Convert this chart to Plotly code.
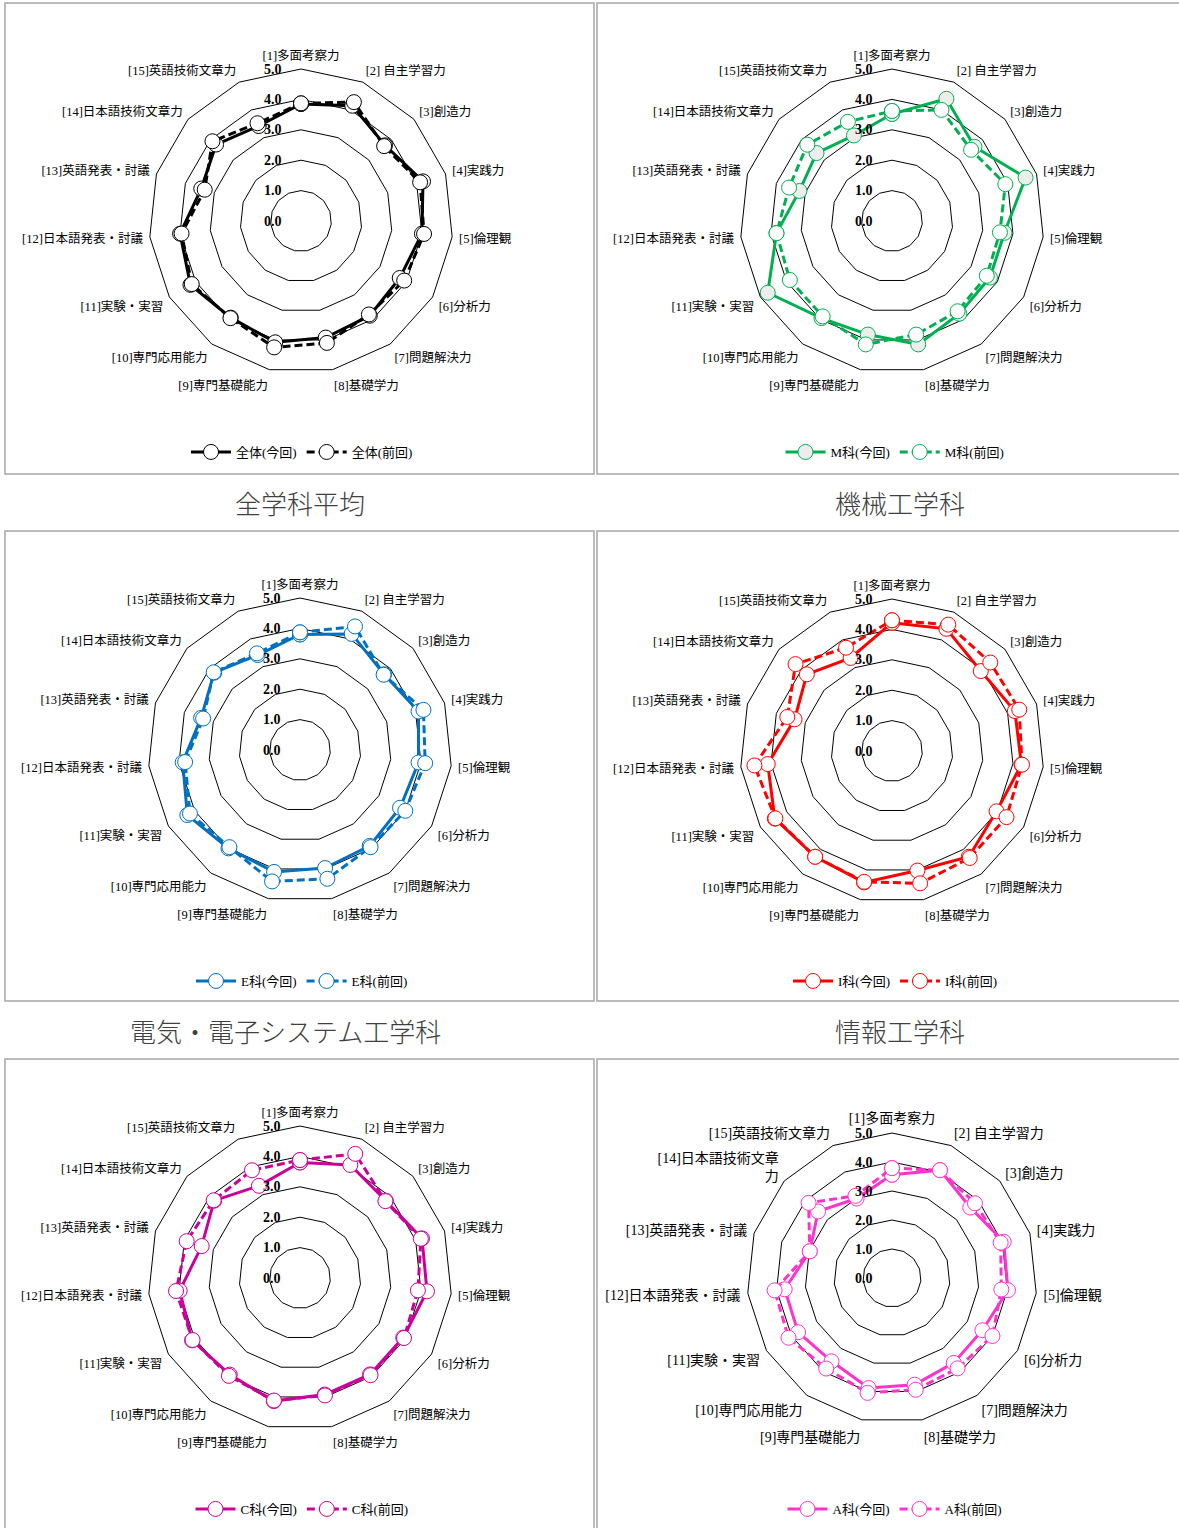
import plotly.graph_objects as go

W, H = 1179, 1528

categories = ["[1]多面考察力", "[2] 自主学習力", "[3]創造力", "[4]実践力", "[5]倫理観",
              "[6]分析力", "[7]問題解決力", "[8]基礎学力", "[9]専門基礎能力", "[10]専門応用能力",
              "[11]実験・実習", "[12]日本語発表・討議", "[13]英語発表・討議", "[14]日本語技術文章力",
              "[15]英語技術文章力"]

radial_ticks = [0, 1, 2, 3, 4, 5]

all_now  = [3.85, 4.15, 3.72, 4.22, 4.00, 3.75, 3.85, 3.92, 4.08, 3.93, 4.20, 4.00, 3.45, 3.76, 3.42]
all_prev = [3.87, 4.28, 3.68, 4.12, 4.07, 3.92, 3.80, 4.10, 4.25, 3.95, 4.15, 3.95, 3.33, 3.92, 3.52]

m_now  = [3.52, 4.40, 3.65, 4.62, 3.72, 3.72, 3.77, 4.15, 3.82, 3.95, 4.72, 3.82, 3.20, 3.34, 3.08]
m_prev = [3.62, 4.00, 3.50, 3.92, 3.57, 3.60, 3.67, 3.82, 4.15, 3.88, 3.88, 3.82, 3.56, 3.75, 3.57]

e_now  = [3.80, 4.18, 3.72, 4.10, 3.92, 3.80, 3.90, 3.97, 4.10, 4.00, 4.28, 3.88, 3.42, 3.80, 3.42]
e_prev = [3.87, 4.45, 3.70, 4.27, 4.14, 4.00, 3.95, 4.33, 4.42, 3.95, 4.18, 3.80, 3.35, 3.82, 3.48]

i_now  = [4.22, 4.40, 3.93, 4.25, 4.28, 3.97, 4.30, 4.02, 4.42, 4.30, 4.45, 4.11, 3.37, 3.77, 3.35]
i_prev = [4.30, 4.55, 4.35, 4.40, 4.30, 4.35, 4.35, 4.45, 4.40, 4.30, 4.43, 4.55, 3.62, 4.27, 3.72]

c_now  = [3.80, 4.07, 3.80, 4.22, 4.20, 3.92, 3.92, 3.92, 4.14, 3.93, 4.10, 3.98, 3.40, 3.80, 3.32]
c_prev = [3.88, 4.47, 3.78, 4.18, 3.90, 3.95, 3.95, 3.95, 4.12, 3.98, 4.08, 4.10, 3.92, 3.82, 3.88]

a_now  = [3.56, 4.07, 3.63, 4.05, 4.02, 3.60, 3.62, 3.76, 3.88, 3.55, 3.74, 3.72, 2.98, 3.43, 3.00]
a_prev = [3.79, 4.07, 3.85, 3.94, 3.79, 4.00, 3.85, 3.94, 4.05, 3.86, 4.12, 4.07, 2.98, 3.87, 3.10]

charts = [
    # name_now, name_prev, now, prev, color, now-marker fill, center(px), radius(px), legend center(px), label font size
    ("全体(今回)", "全体(前回)", all_now, all_prev, "#000000", "white", (301, 221), 152, (302, 452), 12.5),
    ("M科(今回)", "M科(前回)", m_now, m_prev, "#00B050", "#EDEDED", (892, 221), 152, (895, 452), 12.5),
    ("E科(今回)", "E科(前回)", e_now, e_prev, "#0070C0", "white", (300, 750), 152, (302, 981), 12.5),
    ("I科(今回)", "I科(前回)", i_now, i_prev, "#FF0000", "white", (892, 751), 152, (895, 981), 12.5),
    ("C科(今回)", "C科(前回)", c_now, c_prev, "#CC0099", "white", (300, 1278), 152, (302, 1509), 12.5),
    ("A科(今回)", "A科(前回)", a_now, a_prev, "#FF33CC", "white", (892, 1278), 145, (895, 1509), 14),
]

titles = [("全学科平均", 300, 502), ("機械工学科", 900, 502),
          ("電気・電子システム工学科", 285, 1030), ("情報工学科", 900, 1030)]

panels = [(5, 594, 3, 474), (597, 1190, 3, 474),
          (5, 594, 531, 1001), (597, 1190, 531, 1001),
          (5, 594, 1059, 1540), (597, 1190, 1059, 1540)]

LABEL_FONT = "Liberation Serif, Noto Sans CJK JP"

fig = go.Figure()
layout = {}

for idx, (n_now, n_prev, now, prev, color, fill, (cx, cy), r, (lx, ly), lsize) in enumerate(charts):
    pid = "polar" if idx == 0 else f"polar{idx+1}"
    lid = "legend" if idx == 0 else f"legend{idx+1}"
    theta = categories + [categories[0]]
    fig.add_trace(go.Scatterpolar(
        r=now + [now[0]], theta=theta, mode="lines+markers", name=n_now,
        line=dict(color=color, width=3),
        marker=dict(symbol="circle", size=15, color=fill, line=dict(color=color, width=1)),
        subplot=pid, legend=lid, cliponaxis=False))
    fig.add_trace(go.Scatterpolar(
        r=prev + [prev[0]], theta=theta, mode="lines+markers", name=n_prev,
        line=dict(color=color, width=3, dash="8px,4px"),
        marker=dict(symbol="circle", size=15, color="white", line=dict(color=color, width=1)),
        subplot=pid, legend=lid, cliponaxis=False))

    if idx == 5:
        ticktext = [c if c != "[14]日本語技術文章力" else "[14]日本語技術文章<br>力" for c in categories]
    else:
        ticktext = categories

    layout[pid] = dict(
        domain=dict(x=[(cx - r) / W, (cx + r) / W], y=[1 - (cy + r) / H, 1 - (cy - r) / H]),
        gridshape="linear",
        bgcolor="white",
        radialaxis=dict(range=[0, 5], tickmode="array", tickvals=radial_ticks,
                        ticktext=[f"{v:.1f}" for v in radial_ticks],
                        showline=False, gridcolor="#000000", gridwidth=1,
                        angle=90, tickangle=90, side="counterclockwise", ticks="outside", ticklen=14,
                        tickcolor="rgba(0,0,0,0)",
                        tickfont=dict(family="Liberation Serif", size=14, color="#000000", weight="bold")),
        angularaxis=dict(direction="clockwise", rotation=90, type="category",
                         categoryorder="array", categoryarray=categories,
                         tickmode="array", tickvals=categories, ticktext=ticktext,
                         showline=True, linecolor="#000000", linewidth=1, showgrid=False,
                         ticks="outside", ticklen=4, tickcolor="rgba(0,0,0,0)",
                         tickfont=dict(family=LABEL_FONT, size=lsize, color="#000000")),
    )
    layout[lid] = dict(orientation="h", x=lx / W, y=1 - ly / H, xanchor="center", yanchor="middle",
                       font=dict(family=LABEL_FONT, size=13, color="#000000"),
                       bgcolor="rgba(0,0,0,0)", itemwidth=40)

shapes = []
for (x0, x1, y0, y1) in panels:
    shapes.append(dict(type="rect", xref="paper", yref="paper",
                       x0=x0 / W, x1=x1 / W, y0=1 - y1 / H, y1=1 - y0 / H,
                       line=dict(color="#A6A6A6", width=1.5), fillcolor="rgba(0,0,0,0)", layer="below"))

annotations = []
for (t, x, y) in titles:
    annotations.append(dict(text=t, x=x / W, y=1 - y / H, xref="paper", yref="paper",
                            showarrow=False, xanchor="center", yanchor="middle",
                            font=dict(family="Noto Sans CJK JP", size=26, color="#404040", weight=300)))

fig.update_layout(**layout)
fig.update_layout(width=W, height=H, margin=dict(l=0, r=0, t=0, b=0),
                  paper_bgcolor="white", plot_bgcolor="white",
                  shapes=shapes, annotations=annotations, showlegend=True)

fig.write_html("out.html")
